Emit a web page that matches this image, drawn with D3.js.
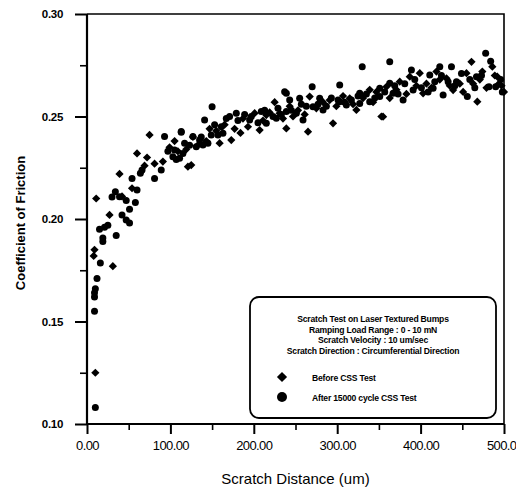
<!DOCTYPE html>
<html>
<head>
<meta charset="utf-8">
<script src="https://cdn.jsdelivr.net/npm/d3@7"></script>
<style>
  body { margin: 0; background: #fff; }
  svg { display: block; font-family: "Liberation Sans", Arial, sans-serif; }
</style>
</head>
<body>
<svg width="516" height="493"></svg>
<script>
// Before CSS Test (diamonds): [distance um, COF]
const beforeCss = [
  [10,0.125],[11,0.210],[31,0.177],[8,0.182],[9,0.185],[27,0.202],[39,0.222],[60,0.232],
  [75,0.241],[72,0.230],[42,0.211],[54,0.215],[69,0.226],[81,0.227],[91,0.228],[99,0.235],
  [109,0.233],[119,0.234],[121,0.2255],[125,0.2263],[127,0.240],[143,0.238],[155,0.243],
  [159,0.237],[173,0.2385],[184,0.242],[187,0.249],[201,0.2516],[215,0.2507],[231,0.2516],
  [207,0.2434],[225,0.257],[239,0.2442],[247,0.250],[265,0.2426],[267,0.2597],[291,0.258],
  [295,0.2467],[315,0.2589],[323,0.2532],[339,0.263],[353,0.250],[355,0.2499],[359,0.2645],
  [375,0.267],[387,0.2694],[399,0.2711],[403,0.2613],[419,0.2719],[431,0.2686],[439,0.2629],
  [455,0.2711],[461,0.2767],[468,0.2572],[474,0.2719],[486,0.2743],[492,0.2694],[497,0.265],
  [105,0.238],[133,0.236],[147,0.244],[165,0.246],[177,0.244],[193,0.245],[211,0.248],
  [219,0.252],[235,0.249],[243,0.255],[253,0.253],[261,0.251],[275,0.254],[283,0.257],
  [299,0.255],[307,0.260],[319,0.256],[331,0.259],[343,0.257],[347,0.262],[363,0.259],
  [371,0.263],[383,0.261],[395,0.265],[407,0.266],[413,0.264],[423,0.268],[435,0.265],
  [447,0.266],[451,0.262],[463,0.266],[471,0.268],[479,0.264],[489,0.270],[494,0.266],[500,0.262]
];
// After 15000 cycle CSS Test (circles)
const afterCss = [
  [10,0.108],[9,0.155],[9,0.162],[9,0.164],[10,0.166],[12,0.171],[16,0.1785],[19,0.189],
  [19,0.1907],[15,0.195],[21,0.196],[25,0.197],[35,0.192],[30,0.2107],[34,0.2133],[39,0.2109],
  [42,0.202],[47,0.1995],[51,0.198],[51,0.2047],[47,0.209],[58,0.208],[60,0.2141],[54,0.2198],
  [64,0.2223],[66,0.2239],[81,0.2198],[89,0.2239],[93,0.2402],[113,0.2423],[105,0.2337],
  [103,0.2304],[111,0.2296],[115,0.232],[150,0.2548],[141,0.2483],[113,0.2427],[127,0.2402],
  [135,0.2385],[149,0.241],[161,0.245],[163,0.2418],[131,0.2353],[139,0.2361],[171,0.250],
  [179,0.2516],[195,0.2483],[209,0.2524],[223,0.250],[239,0.2524],[215,0.2467],[227,0.2491],
  [239,0.2613],[237,0.2621],[270,0.2645],[303,0.2654],[330,0.2743],[243,0.258],[255,0.2589],
  [279,0.2589],[303,0.2572],[327,0.2613],[351,0.2638],[251,0.2516],[271,0.2548],[283,0.2532],
  [311,0.2556],[327,0.2564],[339,0.2572],[351,0.2597],[259,0.2483],[363,0.2767],[389,0.2727],
  [423,0.2743],[437,0.2743],[478,0.2808],[363,0.2662],[411,0.2702],[443,0.267],[467,0.2694],
  [367,0.2613],[379,0.258],[391,0.2629],[415,0.2638],[427,0.2605],[456,0.2597],[482,0.2645],
  [490,0.2645],[498,0.262],
  [97,0.233],[107,0.229],[117,0.237],[123,0.236],[137,0.240],[145,0.237],[153,0.246],
  [157,0.241],[167,0.249],[181,0.248],[189,0.251],[197,0.250],[205,0.247],[213,0.253],
  [229,0.254],[233,0.251],[245,0.253],[257,0.256],[263,0.255],[277,0.256],[287,0.255],
  [293,0.259],[301,0.258],[309,0.257],[317,0.258],[325,0.260],[335,0.261],[345,0.259],
  [357,0.262],[369,0.265],[373,0.261],[381,0.266],[393,0.268],[401,0.264],[409,0.262],
  [417,0.267],[425,0.270],[433,0.267],[441,0.265],[449,0.271],[459,0.268],[465,0.264],
  [473,0.270],[484,0.277],[496,0.268]
];
const xTicks = [0, 100, 200, 300, 400, 500];
const xTickLabels = ["0.00", "100.00", "200.00", "300.00", "400.00", "500.0"];
const yTicks = [0.10, 0.15, 0.20, 0.25, 0.30];
const legendLines = [
  "Scratch Test on Laser Textured Bumps",
  "Ramping Load Range : 0 - 10 mN",
  "Scratch Velocity : 10 um/sec",
  "Scratch Direction : Circumferential Direction"
];
const seriesNames = ["Before CSS Test", "After 15000 cycle CSS Test"];

const svg = d3.select("svg");
const margin = { top: 14, right: 12, bottom: 69, left: 87 };
const width = 516 - margin.left - margin.right;
const height = 493 - margin.top - margin.bottom;

const g = svg.append("g").attr("transform", `translate(${margin.left},${margin.top})`);

const x = d3.scaleLinear().domain([0, 500]).range([0, width]);
const y = d3.scaleLinear().domain([0.10, 0.30]).range([height, 0]);

// frame (top and right)
g.append("path")
  .attr("d", `M0,0H${width}V${height}`)
  .attr("fill", "none").attr("stroke", "#000").attr("stroke-width", 1.6);

// minor ticks
g.append("g").attr("transform", `translate(0,${height})`)
  .call(d3.axisBottom(x).tickValues([50, 150, 250, 350, 450]).tickSize(6).tickFormat(""))
  .call(a => a.select(".domain").remove())
  .selectAll("line").attr("stroke-width", 1.6);
g.append("g")
  .call(d3.axisLeft(y).tickValues([0.125, 0.175, 0.225, 0.275]).tickSize(7).tickFormat(""))
  .call(a => a.select(".domain").remove())
  .selectAll("line").attr("stroke-width", 1.6);

// major axes
const xAxis = g.append("g").attr("transform", `translate(0,${height})`)
  .call(d3.axisBottom(x).tickValues(xTicks).tickSize(10).tickPadding(7)
    .tickFormat((d, i) => xTickLabels[i]));
xAxis.select(".domain").attr("d", `M0,0H${width}`).attr("stroke-width", 2.2);
xAxis.selectAll("line").attr("stroke-width", 2);
xAxis.selectAll("text").attr("font-size", 13).attr("letter-spacing", -0.6)
  .attr("fill", "#000").attr("font-family", "Liberation Sans, Arial, sans-serif");
// last label sits at the right edge, keep it inside the page
xAxis.selectAll("text").filter(d => d === 500).attr("text-anchor", "end").attr("x", 12);

const yAxis = g.append("g")
  .call(d3.axisLeft(y).tickValues(yTicks).tickSize(12).tickPadding(12).tickFormat(d3.format(".2f")));
yAxis.select(".domain").attr("d", `M0,0V${height}`).attr("stroke-width", 2.2);
yAxis.selectAll("line").attr("stroke-width", 2);
yAxis.selectAll("text").attr("font-size", 11.5).attr("font-weight", "bold").attr("letter-spacing", -0.3)
  .attr("fill", "#000").attr("font-family", "Liberation Sans, Arial, sans-serif");

// points
const diamond = d3.symbol().type(d3.symbolSquare).size(34);
g.selectAll(".before").data(beforeCss).join("path")
  .attr("class", "before")
  .attr("d", diamond)
  .attr("transform", d => `translate(${x(d[0])},${y(d[1])}) rotate(45)`)
  .attr("fill", "#000");

g.selectAll(".after").data(afterCss).join("circle")
  .attr("class", "after")
  .attr("cx", d => x(d[0])).attr("cy", d => y(d[1]))
  .attr("r", 3.5).attr("fill", "#000");

// axis titles
svg.append("text")
  .attr("x", margin.left + width / 2).attr("y", 484)
  .attr("text-anchor", "middle").attr("font-size", 15)
  .text("Scratch Distance (um)");
svg.append("text")
  .attr("transform", `translate(25,${margin.top + height / 2 + 4}) rotate(-90)`)
  .attr("text-anchor", "middle").attr("font-size", 13).attr("font-weight", "bold")
  .text("Coefficient of Friction");

// legend
const legend = svg.append("g").attr("transform", "translate(250,297)");
legend.append("rect")
  .attr("width", 246).attr("height", 121).attr("rx", 9)
  .attr("fill", "#fff").attr("stroke", "#000").attr("stroke-width", 1.8);
legend.selectAll(".ltitle").data(legendLines).join("text")
  .attr("x", 123).attr("y", (d, i) => 25 + i * 10.5)
  .attr("text-anchor", "middle").attr("font-size", 8.6).attr("font-weight", "bold")
  .attr("letter-spacing", -0.2)
  .text(d => d);
legend.append("path")
  .attr("d", d3.symbol().type(d3.symbolSquare).size(52))
  .attr("transform", "translate(32,80) rotate(45)");
legend.append("circle").attr("cx", 32).attr("cy", 100).attr("r", 5);
legend.selectAll(".lname").data(seriesNames).join("text")
  .attr("x", 62).attr("y", (d, i) => 84 + i * 20)
  .attr("font-size", 8.6).attr("font-weight", "bold").attr("letter-spacing", -0.2)
  .text(d => d);
</script>
</body>
</html>
